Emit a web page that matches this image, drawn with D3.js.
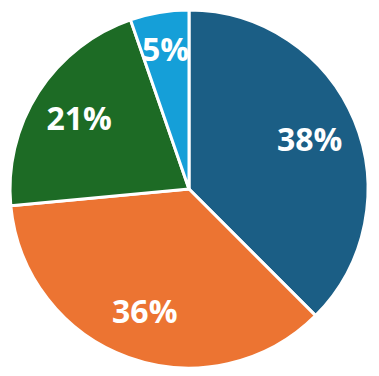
<!DOCTYPE html>
<html>
<head>
<meta charset="utf-8">
<script src="https://cdn.jsdelivr.net/npm/d3@7"></script>
<style>
  body { margin: 0; background: #fff; }
</style>
</head>
<body>
<div id="chart"></div>
<script>
// slice values (percent), clockwise from 12 o'clock
const categories = ['A', 'B', 'C', 'D'];
const values = [37.5, 36.0, 21.2, 5.3];
const labels = ['38%', '36%', '21%', '5%'];
const colors = ['#1b5e85', '#ec7432', '#1d6b25', '#159fd8'];

const width = 379;
const height = 376;
const cx = 189;
const cy = 189;
const radius = 179;

const svg = d3.select('#chart')
    .append('svg')
    .attr('width', width)
    .attr('height', height);

const g = svg.append('g')
    .attr('transform', `translate(${cx},${cy})`);

const pie = d3.pie()
    .sort(null)
    .value(d => d.value);

const data = categories.map((c, i) => ({ name: c, value: values[i], label: labels[i], color: colors[i] }));
const arcs = pie(data);

const arc = d3.arc()
    .innerRadius(0)
    .outerRadius(radius);

// small slices get their label pushed a bit further out
const labelRadius = d => (d.endAngle - d.startAngle < 0.5 ? radius * 0.79 : radius * 0.73);

g.selectAll('path')
    .data(arcs)
    .enter().append('path')
    .attr('d', arc)
    .attr('fill', d => d.data.color)
    .attr('stroke', '#fff')
    .attr('stroke-width', 3)
    .attr('stroke-linejoin', 'round');

g.selectAll('text')
    .data(arcs)
    .enter().append('text')
    .attr('transform', d => {
        const r = labelRadius(d);
        const [x, y] = d3.arc().innerRadius(r).outerRadius(r).centroid(d);
        return `translate(${x},${y})`;
    })
    .attr('text-anchor', 'middle')
    .attr('dy', '0.36em')
    .attr('fill', '#fff')
    .attr('font-family', 'Open Sans, Liberation Sans, sans-serif')
    .attr('font-weight', 'bold')
    .attr('font-size', '32px')
    .text(d => d.data.label);
</script>
</body>
</html>
